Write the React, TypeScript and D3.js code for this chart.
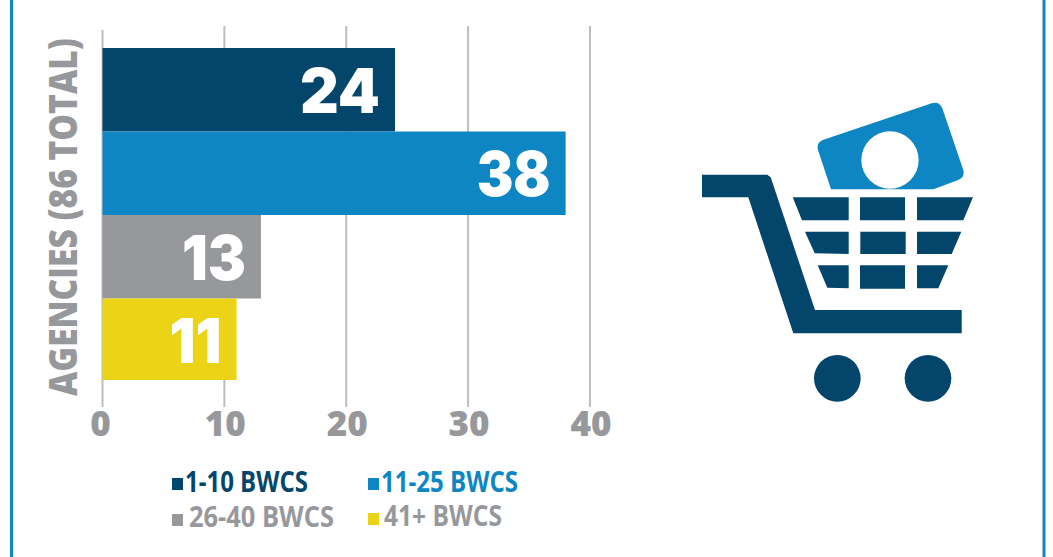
import React, { useLayoutEffect, useRef } from "react";
import * as d3 from "d3";

const categories = ["1-10 BWCS", "11-25 BWCS", "26-40 BWCS", "41+ BWCS"];
const values = [24, 38, 13, 11];
const colors = ["#04456b", "#0e86c3", "#97989c", "#ead415"];
const ticks = [0, 10, 20, 30, 40];
const FONT = "'Open Sans', 'Noto Sans', sans-serif";
const VALUE_FONT = "Inter, 'Open Sans', sans-serif";

const x = d3.scaleLinear().domain([0, 40]).range([102.5, 590]);
const y = d3.scaleBand().domain(categories).range([48, 382]);

// icon crop mapping
const ix = d3.scaleLinear().domain([0, 960]).range([680, 1000]);
const iy = d3.scaleLinear().domain([0, 960]).range([90, 410]);
const P = (a: number, b: number) => `${ix(a).toFixed(1)},${iy(b).toFixed(1)}`;
const poly = (pts: number[][]) => "M" + pts.map(([a, b]) => P(a, b)).join("L") + "Z";

const cartBody = [[66,254],[262,254],[272,262],[405,660],[845,660],[845,730],[340,730],[205,322],[66,322]];
const basket = [
  [[338,322],[506,322],[506,391],[366,391]],
  [[540,322],[675,322],[675,391],[540,391]],
  [[711,322],[879,322],[850,391],[711,391]],
  [[375,425],[506,425],[506,492],[404,490]],
  [[541,425],[677,425],[677,492],[541,492]],
  [[711,425],[844,425],[815,492],[711,492]],
  [[413,526],[506,526],[506,595],[442,593]],
  [[540,526],[675,526],[675,596],[540,596]],
  [[711,526],[805,526],[775,595],[711,595]],
];
const billPath = `M${P(453,298)}L${P(414,180)}Q${P(408,158)} ${P(428,150)}L${P(755,40)}Q${P(778,32)} ${P(787,55)}L${P(850,240)}Q${P(856,262)} ${P(835,270)}L${P(760,298)}Z`;
const wheels = [472, 744];

const legendPos = [
  { sx: 172, sy: 478, tx: 185, ty: 492, w: 123 },
  { sx: 368, sy: 478, tx: 381, ty: 492, w: 137 },
  { sx: 172, sy: 514, tx: 189, ty: 527, w: 145 },
  { sx: 368, sy: 513, tx: 384, ty: 526, w: 118 },
];
const legendText = ["#04456b", "#0e86c3", "#97989c", "#97989c"];
const valueWidths = [80, 74, 64, 52];

// Text squeezed horizontally to a measured width, through a real transform.
function FitText({ x: px, y: py, w, rotate = 0, children, ...rest }: any) {
  const ref = useRef<SVGTextElement>(null);
  useLayoutEffect(() => {
    const el = ref.current!;
    const natural = el.getComputedTextLength();
    el.setAttribute("transform", `translate(${px},${py}) rotate(${rotate}) scale(${w / natural},1)`);
  }, [px, py, w, rotate]);
  return <text ref={ref} transform={`translate(${px},${py}) rotate(${rotate})`} {...rest}>{children}</text>;
}

export default function App() {
  return (
    <svg width={1053} height={557} style={{ position: "absolute", left: 0, top: 0, background: "#fff" }}>
      <defs>
        <clipPath id="plot"><rect x={0} y={0} width={700} height={380} /></clipPath>
      </defs>
      <rect x={11.5} y={-5} width={1032.5} height={575} fill="none" stroke="#0e86c3" strokeWidth={3} />
      {ticks.map((t) => (
        <line key={t} x1={x(t)} x2={x(t)} y1={t === 0 ? 30 : 26} y2={407} stroke="#bcbdc0" strokeWidth={2} />
      ))}
      <g clipPath="url(#plot)">
        {values.map((v, i) => (
          <rect key={i} x={x(0)} y={y(categories[i])} width={x(v) - x(0)} height={y.bandwidth()} fill={colors[i]} />
        ))}
      </g>
      {values.map((v, i) => (
        <FitText key={i} x={x(v) - 15 - valueWidths[i]} y={y(categories[i])! + y.bandwidth() / 2 + 23} w={valueWidths[i]}
          fontFamily={VALUE_FONT} fontWeight={900} fontSize={62} fill="#fff">{v}</FitText>
      ))}
      {ticks.map((t) => (
        <text key={t} x={x(t) + (t === 0 ? -2 : 1)} y={436} textAnchor="middle" fontFamily={FONT} fontWeight={800} fontSize={35} fill="#97989c">{t}</text>
      ))}
      <FitText x={77} y={396} w={358} rotate={-90} fontFamily={FONT} fontWeight={800} fontSize={38} fill="#97989c">AGENCIES (86 TOTAL)</FitText>
      {categories.map((c, i) => (
        <g key={c}>
          <rect x={legendPos[i].sx} y={legendPos[i].sy} width={11} height={12} fill={colors[i]} />
          <FitText x={legendPos[i].tx} y={legendPos[i].ty} w={legendPos[i].w} fontFamily={FONT} fontWeight={700} fontSize={28} fill={legendText[i]}>{c}</FitText>
        </g>
      ))}
      <path d={billPath} fill="#0e86c3" />
      <circle cx={ix(630)} cy={iy(210)} r={ix(86) - ix(0)} fill="#fff" />
      <path d={poly(cartBody)} fill="#04456b" />
      {basket.map((b, i) => <path key={i} d={poly(b)} fill="#04456b" />)}
      {wheels.map((w) => <circle key={w} cx={ix(w)} cy={iy(865)} r={ix(70) - ix(0)} fill="#04456b" />)}
    </svg>
  );
}
